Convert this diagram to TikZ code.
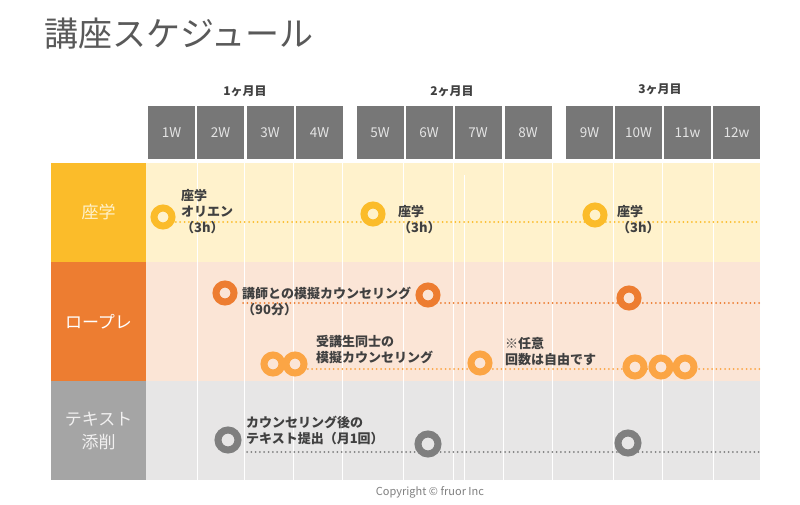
\documentclass[tikz,border=0pt]{standalone}
\usepackage{fontspec}
\setmainfont{Noto Sans CJK JP}
\setsansfont{Noto Sans CJK JP}
\definecolor{wkgray}{HTML}{777777}
\definecolor{wktext}{HTML}{E4E4E4}
\definecolor{yel}{HTML}{FBBC2A}
\definecolor{yelbg}{HTML}{FFF2CC}
\definecolor{org}{HTML}{ED7D31}
\definecolor{orgbg}{HTML}{FBE5D6}
\definecolor{lorg}{HTML}{FBA545}
\definecolor{gry}{HTML}{A5A5A5}
\definecolor{grybg}{HTML}{E7E6E6}
\definecolor{ringgray}{HTML}{7F7F7F}
\definecolor{txtgray}{HTML}{404040}
\definecolor{titlegray}{HTML}{595959}
\begin{document}
\begin{tikzpicture}[x=1pt,y=-1pt,
  week/.style={fill=wkgray, minimum width=47, minimum height=53, inner sep=0, text=wktext, font=\fontsize{13.5}{13.5}\selectfont},
  monthlbl/.style={text=txtgray, font=\bfseries\fontsize{12}{12}\selectfont, inner sep=0},
  rowlabel/.style={fill=#1, text=white, font=\fontsize{17}{23}\selectfont, align=center, inner sep=0, minimum width=95},
  rowbg/.style={fill=#1, inner sep=0, minimum width=614},
  ring/.style={circle, draw=#1, line width=7, minimum size=18, inner sep=0},
  dotline/.style={draw=#1, line width=2, line cap=round, dash pattern=on 0pt off 4.3pt},
  txt/.style={anchor=west, align=left, text=txtgray, font=\bfseries\fontsize{13}{16}\selectfont, inner sep=0}]
\useasboundingbox (0,0) rectangle (800,505);
\fill[white] (0,0) rectangle (800,505);

% title
\node[anchor=west, inner sep=0, text=titlegray, font=\fontsize{34}{34}\selectfont] (title) at (44,34) {講座スケジュール};

% months
\node[monthlbl] (m1) at (245,91) {1ヶ月目};
\node[monthlbl] (m2) at (452,91) {2ヶ月目};
\node[monthlbl] (m3) at (660,89) {3ヶ月目};

% weeks
\node[week] (w1) at (171.5,132.5) {1W};
\node[week] (w2) at (220.5,132.5) {2W};
\node[week] (w3) at (270,133) {3W};
\node[week] (w4) at (319.5,132.5) {4W};
\node[week] (w5) at (380,132.5) {5W};
\node[week] (w6) at (429,132.5) {6W};
\node[week] (w7) at (478,132.5) {7W};
\node[week] (w8) at (528,132.5) {8W};
\node[week] (w9) at (589.5,132.5) {9W};
\node[week] (w10) at (638.5,132.5) {10W};
\node[week] (w11) at (687.5,132.5) {11w};
\node[week] (w12) at (736.5,133) {12w};

% rows
\node[rowbg=yelbg, minimum height=99] (bg1) at (453,212.5) {};
\node[rowbg=orgbg, minimum height=119] (bg2) at (453,321.5) {};
\node[rowbg=grybg, minimum height=99] (bg3) at (453,430.5) {};
\node[rowlabel=yel, minimum height=99, text=yelbg] (r1) at (98.5,212.5) {座学};
\node[rowlabel=org, minimum height=119] (r2) at (98.5,321.5) {ロープレ};
\node[rowlabel=gry, minimum height=99, text=grybg!60!white] (r3) at (98.5,430.5) {テキスト\\添削};

% grid
\foreach \x in {197,244,293,342,403,453,503,552,613,662,713}
  \draw[white, line width=0.8] (\x,163) -- (\x,480);
\draw[white, line width=0.8] (464,175) -- (464,480);

% dotted lines
\coordinate (a1) at (163,222); \coordinate (a2) at (760,222);
\coordinate (b1) at (243,303); \coordinate (b2) at (760,303);
\coordinate (c1) at (295,369); \coordinate (c2) at (760,369);
\coordinate (d1) at (247,452); \coordinate (d2) at (760,452);
\draw[dotline=yel] (a1) -- (a2);
\draw[dotline=org] (b1) -- (b2);
\draw[dotline=lorg] (c1) -- (c2);
\draw[dotline=ringgray] (d1) -- (d2);

% rings
\node[ring=yel, fill=yelbg] (za) at (163,217) {};
\node[ring=yel, fill=yelbg] (zb) at (373,214) {};
\node[ring=yel, fill=yelbg] (zc) at (595,215) {};
\node[ring=org, fill=orgbg] (ra) at (225,293) {};
\node[ring=org, fill=orgbg] (rb) at (428,295) {};
\node[ring=org, fill=orgbg] (rc) at (629,298) {};
\node[ring=lorg, fill=orgbg] (pa) at (273,364) {};
\node[ring=lorg, fill=orgbg] (pb) at (295,364) {};
\node[ring=lorg, fill=orgbg] (pc) at (480,363) {};
\node[ring=lorg, fill=orgbg] (pd) at (635,367) {};
\node[ring=lorg, fill=orgbg] (pe) at (661,367) {};
\node[ring=lorg, fill=orgbg] (pf) at (685,367) {};
\node[ring=ringgray, fill=grybg, minimum height=20] (ta) at (228,440) {};
\node[ring=ringgray, fill=grybg, minimum height=20] (tb) at (428,444) {};
\node[ring=ringgray, fill=grybg, minimum height=20] (tc) at (628,443) {};

% texts
\node[txt] (t1) at (181,212) {座学\\オリエン\\（3h）};
\node[txt] (t2) at (398,220) {座学\\（3h）};
\node[txt] (t3) at (617,220) {座学\\（3h）};
\node[txt] (t4) at (242,301) {講師との模擬カウンセリング\\（90分）};
\node[txt] (t5) at (316,350) {受講生同士の\\模擬カウンセリング};
\node[txt] (t6) at (505,352) {※任意\\回数は自由です};
\node[txt] (t7) at (246,430) {カウンセリング後の\\テキスト提出（月1回）};

% copyright
\node[text=gray, font=\fontsize{11}{11}\selectfont, inner sep=0] (copy) at (430,492) {Copyright © fruor Inc};
\end{tikzpicture}
\end{document}
